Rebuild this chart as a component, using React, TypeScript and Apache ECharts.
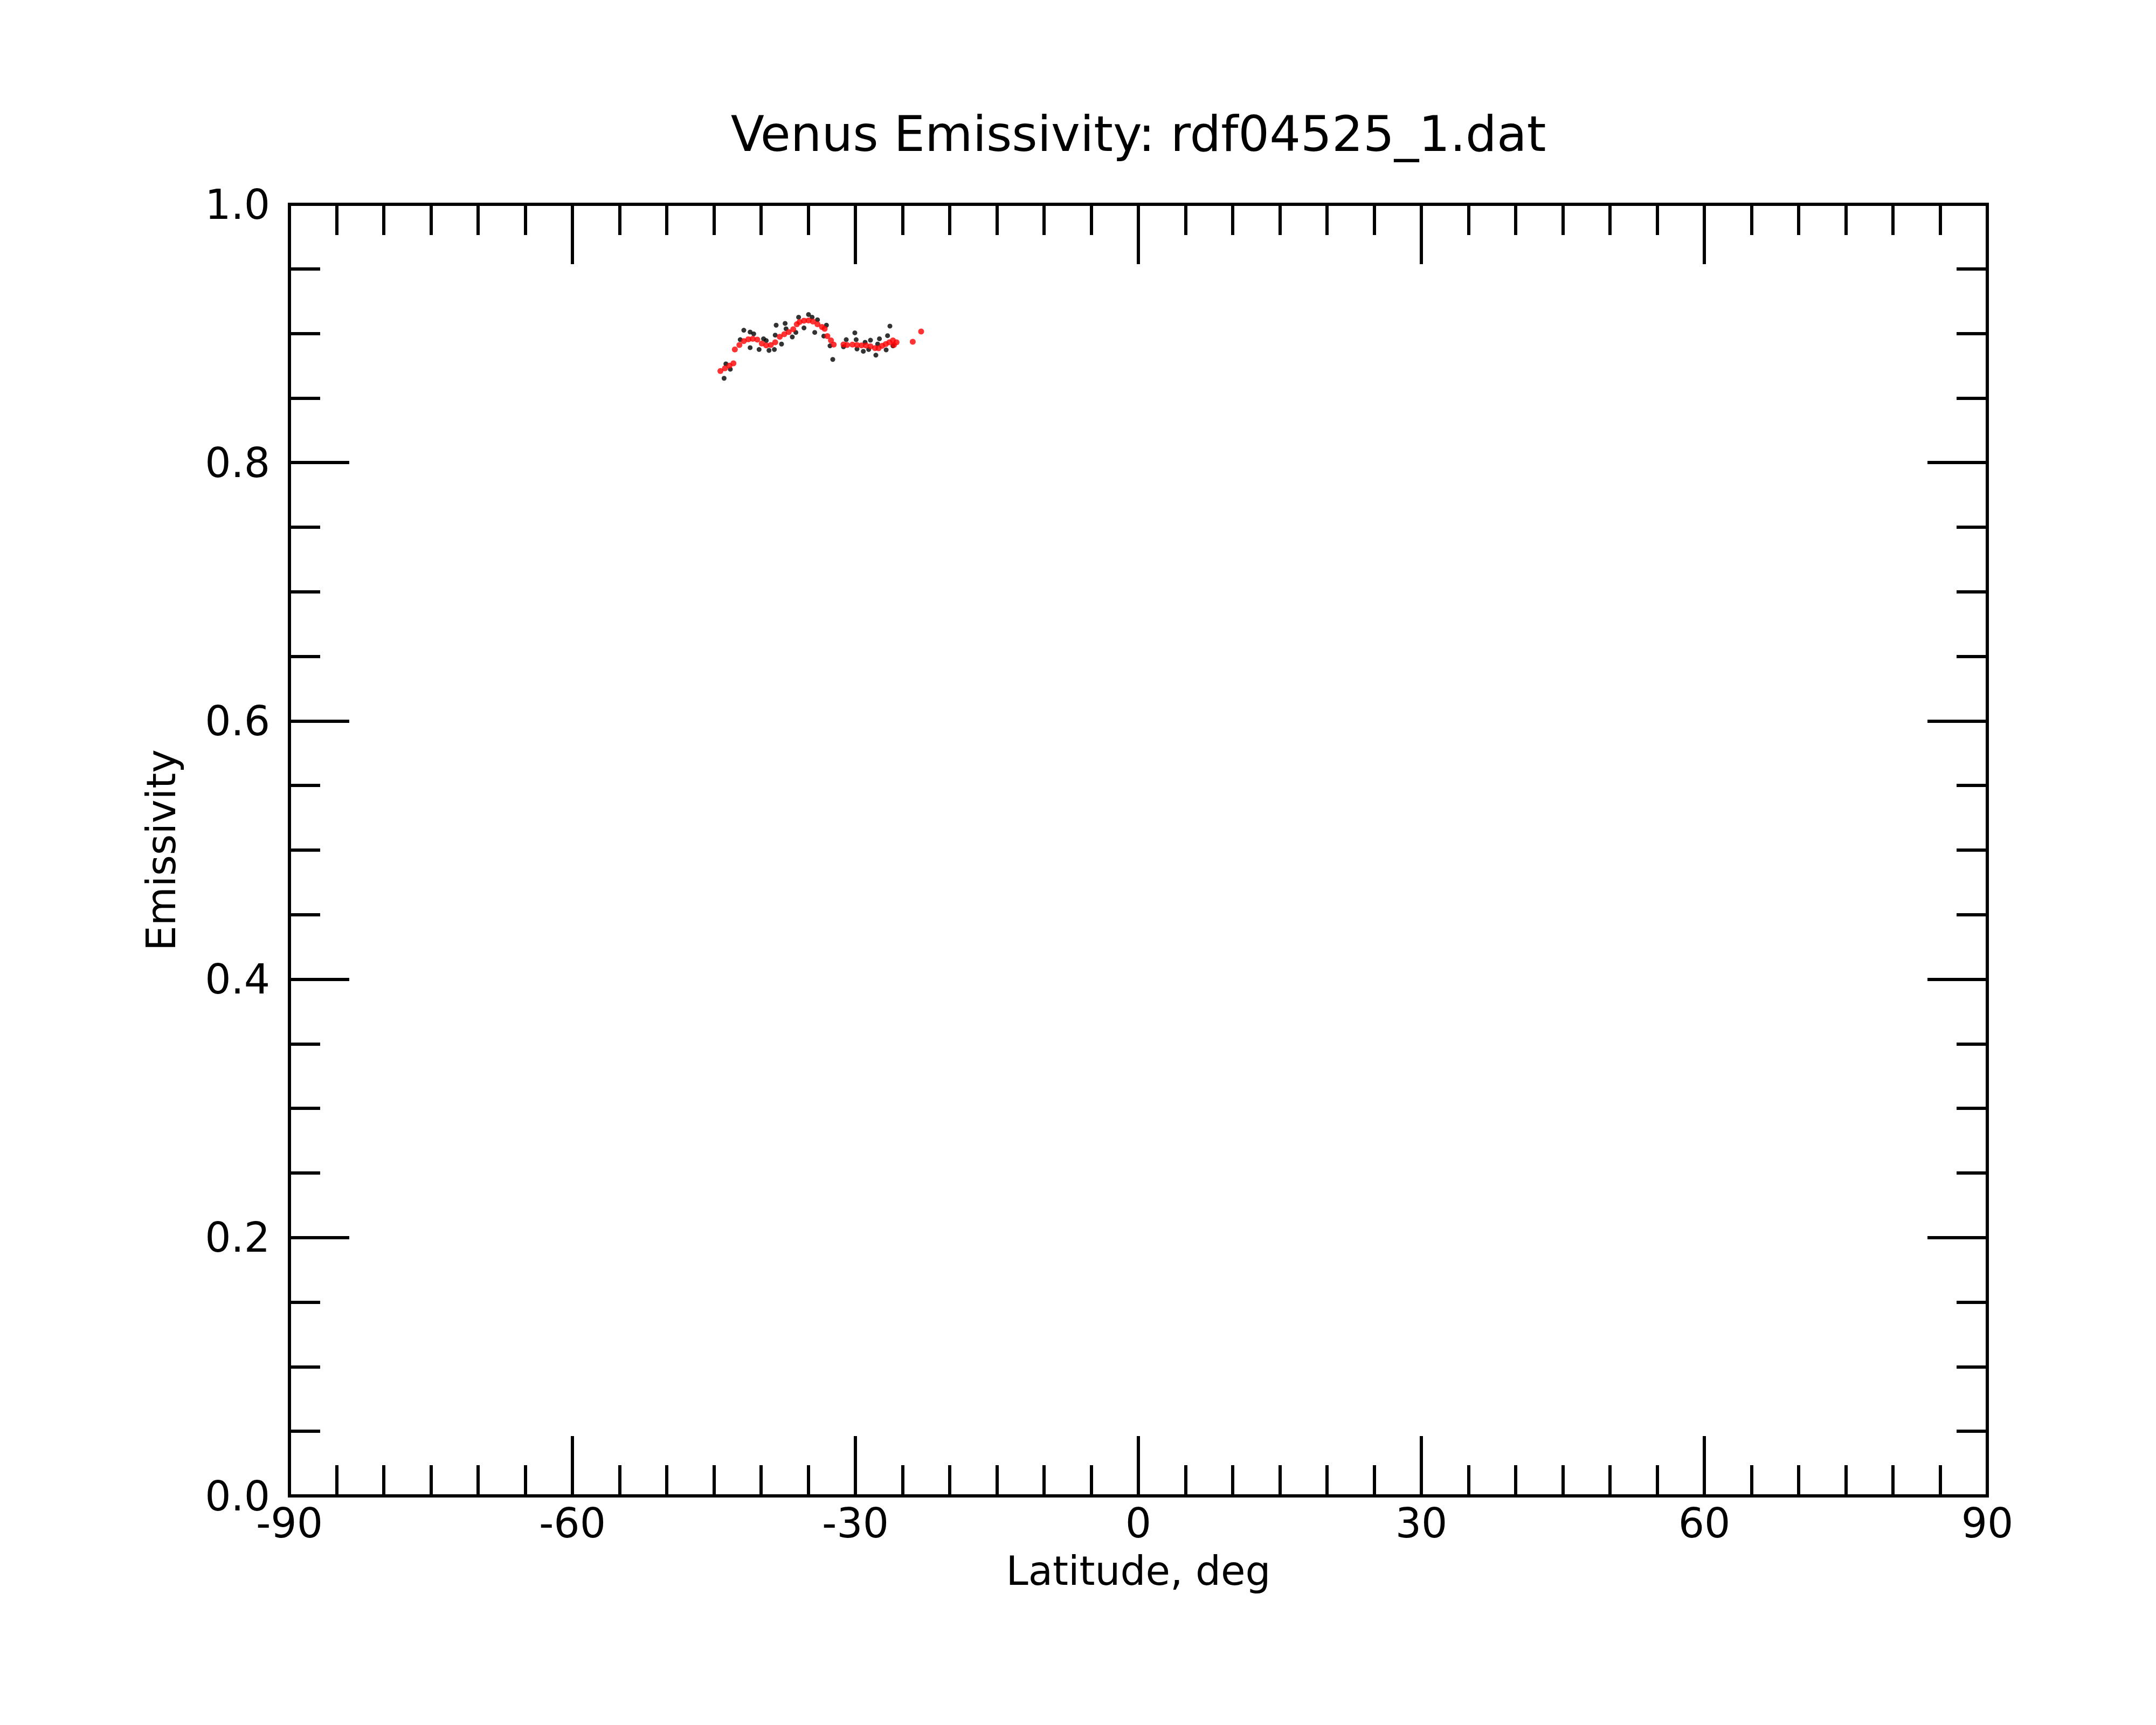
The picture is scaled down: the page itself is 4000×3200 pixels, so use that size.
import React, { useEffect, useRef } from "react";
import * as echarts from "echarts";

const titleText = "Venus Emissivity: rdf04525_1.dat";
const xAxisTitle = "Latitude, deg";
const yAxisTitle = "Emissivity";

// Raw measurements (black dots): [latitude, emissivity]
const rawLat = [
  -43.92, -43.26, -43.73, -42.21, -41.83, -41.16, -40.78, -41.16, -40.21, -39.74,
  -39.45, -39.16, -38.59, -38.40, -38.50, -37.83, -37.45, -37.35, -36.69, -36.31,
  -36.02, -35.45, -34.97, -34.59, -34.31, -34.02, -33.07, -33.35, -32.69, -32.40,
  -30.97, -31.26, -30.06, -29.92, -29.83, -29.16, -28.97, -28.40, -28.59, -27.83,
  -27.45, -27.64, -26.74, -26.59, -26.34, -26.02,
];
const rawEmis = [
  0.8653, 0.8723, 0.8765, 0.8952, 0.9025, 0.9011, 0.8997, 0.889, 0.8876, 0.8959,
  0.8945, 0.8869, 0.8876, 0.9064, 0.8987, 0.8918, 0.9078, 0.9036, 0.8973, 0.9008,
  0.9126, 0.9043, 0.9147, 0.9126, 0.9008, 0.9106, 0.9064, 0.898, 0.8904, 0.8799,
  0.8952, 0.8897, 0.9005, 0.8952, 0.888, 0.8862, 0.8932, 0.8948, 0.8876, 0.8832,
  0.8959, 0.8918, 0.8873, 0.8983, 0.9057, 0.8904,
];

// Smoothed values (red dots)
const smoothLat = [
  -44.31, -43.83, -43.35, -42.93, -42.78, -42.30, -41.83, -41.35, -40.88, -40.40,
  -39.92, -39.45, -38.97, -38.50, -38.02, -37.54, -37.07, -36.59, -36.21, -35.92,
  -35.45, -34.97, -34.50, -34.02, -33.54, -33.26, -32.97, -32.59, -32.30, -31.26,
  -30.88, -30.31, -29.83, -29.35, -28.88, -28.40, -27.92, -27.54, -27.16, -26.78,
  -26.40, -26.02, -25.92, -25.64, -23.92, -23.03,
];
const smoothEmis = [
  0.8709, 0.873, 0.8751, 0.8769, 0.8876, 0.8911, 0.8941, 0.8955, 0.8959, 0.8952,
  0.8922, 0.8908, 0.8911, 0.8932, 0.8974, 0.8994, 0.9011, 0.9033, 0.9071, 0.9089,
  0.9099, 0.9101, 0.9092, 0.9071, 0.905, 0.9036, 0.898, 0.8946, 0.8914, 0.8915,
  0.8911, 0.8914, 0.8911, 0.8908, 0.8907, 0.89, 0.8887, 0.8886, 0.8904, 0.8918,
  0.8932, 0.8946, 0.8911, 0.8932, 0.8936, 0.9015,
];

const xMin = -90;
const xMax = 90;
const xStep = 30;
const yMin = 0;
const yMax = 1;
const yStep = 0.2;

const FONT = "DejaVu Sans";

export default function App() {
  const ref = useRef<HTMLDivElement>(null);

  useEffect(() => {
    if (!ref.current) return;
    const chart = echarts.init(ref.current, null, { renderer: "svg" });

    const gridLeft = 537;
    const gridRight = 313;
    const gridTop = 379;
    const gridBottom = 425;
    const plotCx = gridLeft + (4000 - gridLeft - gridRight) / 2;
    const plotCy = gridTop + (3200 - gridTop - gridBottom) / 2;

    const tickStyle = { color: "#000", width: 6 };
    const majorLen = 111;
    const minorLen = 57;

    const xCommon = {
      type: "value",
      min: xMin,
      max: xMax,
      interval: xStep,
      axisLine: { show: false, onZero: false },
      axisTick: { show: true, inside: true, length: majorLen, lineStyle: tickStyle },
      minorTick: { show: true, splitNumber: 6, length: minorLen, lineStyle: tickStyle },
      splitLine: { show: false },
      minorSplitLine: { show: false },
    };
    const yCommon = {
      type: "value",
      min: yMin,
      max: yMax,
      interval: yStep,
      axisLine: { show: false, onZero: false },
      axisTick: { show: true, inside: true, length: majorLen, lineStyle: tickStyle },
      minorTick: { show: true, splitNumber: 4, length: minorLen, lineStyle: tickStyle },
      splitLine: { show: false },
      minorSplitLine: { show: false },
    };

    const rawData = rawLat.map((v, i) => [v, rawEmis[i]]);
    const smoothData = smoothLat.map((v, i) => [v, smoothEmis[i]]);

    chart.setOption({
      animation: false,
      backgroundColor: "#fff",
      grid: {
        left: gridLeft,
        right: gridRight,
        top: gridTop,
        bottom: gridBottom,
        show: true,
        borderColor: "#000",
        borderWidth: 6,
        backgroundColor: "transparent",
      },
      xAxis: [
        {
          ...xCommon,
          position: "bottom",
          axisLabel: {
            show: true,
            margin: 12,
            color: "#000",
            fontFamily: FONT,
            fontSize: 76,
            lineHeight: 76,
            formatter: (v: number) => String(Math.round(v)),
          },
        },
        {
          ...xCommon,
          position: "top",
          axisLabel: { show: false },
        },
      ],
      yAxis: [
        {
          ...yCommon,
          position: "left",
          axisLabel: {
            show: true,
            margin: 36,
            color: "#000",
            fontFamily: FONT,
            fontSize: 76,
            formatter: (v: number) => v.toFixed(1),
          },
        },
        {
          ...yCommon,
          position: "right",
          axisLabel: { show: false },
        },
      ],
      graphic: [
        {
          type: "text",
          x: plotCx,
          y: 248,
          style: {
            text: titleText,
            fill: "#000",
            font: `91px "${FONT}"`,
            textAlign: "center",
            textVerticalAlign: "middle",
          },
        },
        {
          type: "text",
          x: plotCx,
          y: 2914,
          style: {
            text: xAxisTitle,
            fill: "#000",
            font: `74px "${FONT}"`,
            textAlign: "center",
            textVerticalAlign: "middle",
          },
        },
        {
          type: "text",
          x: 299,
          y: plotCy,
          rotation: Math.PI / 2,
          style: {
            text: yAxisTitle,
            fill: "#000",
            font: `74px "${FONT}"`,
            textAlign: "center",
            textVerticalAlign: "middle",
          },
        },
      ],
      series: [
        {
          type: "scatter",
          xAxisIndex: 0,
          yAxisIndex: 0,
          data: rawData,
          symbol: "circle",
          symbolSize: 9,
          itemStyle: { color: "#000" },
          silent: true,
        },
        {
          type: "scatter",
          xAxisIndex: 0,
          yAxisIndex: 0,
          data: smoothData,
          symbol: "circle",
          symbolSize: 11,
          itemStyle: { color: "#ff0000" },
          silent: true,
        },
      ],
    });

    return () => {
      chart.dispose();
    };
  }, []);

  return (
    <div
      ref={ref}
      style={{ position: "absolute", left: 0, top: 0, width: 4000, height: 3200, background: "#fff" }}
    />
  );
}
